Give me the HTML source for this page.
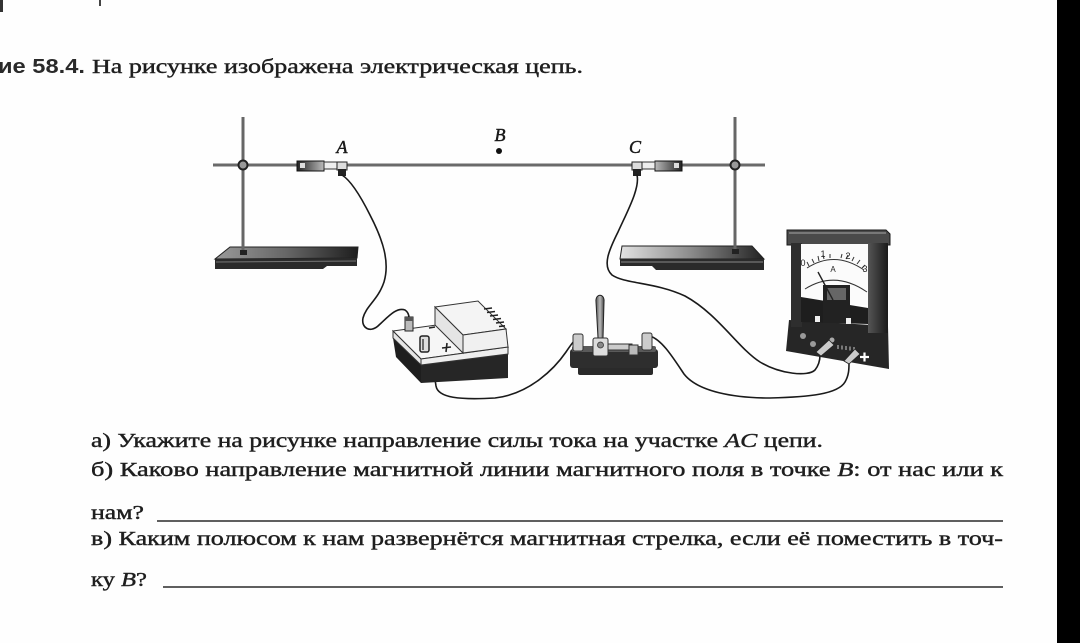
<!DOCTYPE html>
<html><head><meta charset="utf-8">
<style>
html,body{margin:0;padding:0;background:#fff;}
body{width:1080px;height:643px;overflow:hidden;position:relative;}
svg{position:absolute;left:0;top:0;}
.t{font-family:"Liberation Serif","Noto Serif CJK SC",serif;font-size:20px;fill:#1e1e1e;stroke:#1e1e1e;stroke-width:0.4px;}
.w{fill:none;stroke:#1a1a1a;stroke-width:1.6;stroke-linecap:round;}
.lbl{font-family:"Liberation Serif",serif;font-style:italic;font-size:18px;fill:#1a1a1a;stroke:#1a1a1a;stroke-width:0.5px;}
</style></head><body>
<svg width="1080" height="643" viewBox="0 0 1080 643" xmlns="http://www.w3.org/2000/svg">
<defs>
 <linearGradient id="gL" x1="0" x2="1" y1="0" y2="0">
  <stop offset="0" stop-color="#9a9a9a"/><stop offset="0.5" stop-color="#666"/><stop offset="1" stop-color="#1e1e1e"/>
 </linearGradient>
 <linearGradient id="gR" x1="0" x2="1" y1="0" y2="0">
  <stop offset="0" stop-color="#e2e2e2"/><stop offset="0.5" stop-color="#8a8a8a"/><stop offset="1" stop-color="#222"/>
 </linearGradient>
 <linearGradient id="gClA" x1="0" x2="1" y1="0" y2="0">
  <stop offset="0" stop-color="#222"/><stop offset="1" stop-color="#bbb"/>
 </linearGradient>
 <linearGradient id="gClC" x1="1" x2="0" y1="0" y2="0">
  <stop offset="0" stop-color="#222"/><stop offset="1" stop-color="#bbb"/>
 </linearGradient>
 <linearGradient id="gH" x1="0" x2="1" y1="0" y2="0">
  <stop offset="0" stop-color="#555"/><stop offset="0.5" stop-color="#bbb"/><stop offset="1" stop-color="#444"/>
 </linearGradient>
 <linearGradient id="gPost" x1="0" x2="1" y1="0" y2="0">
  <stop offset="0" stop-color="#555"/><stop offset="1" stop-color="#1a1a1a"/>
 </linearGradient>
</defs>
<rect width="1080" height="643" fill="#fefefe"/>
<rect x="1057" y="0" width="23" height="643" fill="#000"/>
<rect x="0" y="0" width="3" height="12" fill="#333"/>
<rect x="99" y="0" width="2" height="6" fill="#444"/>

<!-- Title -->
<text x="-2" y="73" font-family="Liberation Sans, sans-serif" font-weight="bold" font-size="20" fill="#2a2a2a" textLength="87" lengthAdjust="spacingAndGlyphs">ие 58.4.</text>
<text class="t" x="92" y="73" textLength="491" lengthAdjust="spacingAndGlyphs">На рисунке изображена электрическая цепь.</text>

<!-- Stands: bases -->
<polygon points="230,247 358,247 357,258 215,259" fill="url(#gL)" stroke="#222" stroke-width="1"/>
<polygon points="215,259 357,258 357,266 327,266 323,269 215,269" fill="#2a2a2a"/>
<line x1="216" y1="262" x2="356" y2="261" stroke="#777" stroke-width="1"/>
<polygon points="622,246 752,246 764,259 620,259" fill="url(#gR)" stroke="#222" stroke-width="1"/>
<polygon points="620,259 764,259 764,270 656,270 652,266 620,266" fill="#2a2a2a"/>
<line x1="621" y1="262" x2="763" y2="262" stroke="#888" stroke-width="1"/>

<!-- vertical rods -->
<line x1="243" y1="117" x2="243" y2="253" stroke="#666" stroke-width="3"/>
<rect x="240" y="250" width="7" height="5" fill="#222"/>
<line x1="735" y1="117" x2="735" y2="252" stroke="#666" stroke-width="3"/>
<rect x="732" y="249" width="7" height="5" fill="#222"/>
<!-- horizontal rod -->
<line x1="213" y1="165" x2="765" y2="165" stroke="#6a6a6a" stroke-width="3"/>
<!-- boss heads -->
<circle cx="243" cy="165" r="4.5" fill="#999" stroke="#222" stroke-width="2"/>
<circle cx="735" cy="165" r="4.5" fill="#999" stroke="#222" stroke-width="2"/>

<!-- Clamp A -->
<rect x="297" y="161" width="27" height="10" fill="url(#gClA)" stroke="#111" stroke-width="1"/>
<rect x="300" y="163" width="5" height="5" fill="#ddd"/>
<rect x="324" y="162" width="13" height="7" fill="#eee" stroke="#333" stroke-width="1"/>
<rect x="337" y="162" width="10" height="8" fill="#ddd" stroke="#222" stroke-width="1"/>
<rect x="338" y="169" width="8" height="7" fill="#222"/>
<!-- Clamp C -->
<rect x="655" y="161" width="27" height="10" fill="url(#gClC)" stroke="#111" stroke-width="1"/>
<rect x="674" y="163" width="5" height="5" fill="#ddd"/>
<rect x="642" y="162" width="13" height="7" fill="#eee" stroke="#333" stroke-width="1"/>
<rect x="632" y="162" width="10" height="8" fill="#ddd" stroke="#222" stroke-width="1"/>
<rect x="633" y="169" width="8" height="7" fill="#222"/>

<!-- Labels -->
<text class="lbl" x="342" y="153" text-anchor="middle">A</text>
<text class="lbl" x="500" y="141" text-anchor="middle">B</text>
<circle cx="499" cy="151" r="3" fill="#111"/>
<text class="lbl" x="635" y="153" text-anchor="middle">C</text>

<!-- Wires -->
<path class="w" d="M342,175 C350,180 360,195 370,215 C383,240 390,262 384,282 C378,300 366,306 363,318 C361,328 370,333 378,326 C388,317 396,307 405,310 C408,312 409,315 409,318"/>
<path class="w" d="M637,175 C640,188 628,210 618,232 C609,250 602,266 612,275 C625,284 655,282 685,296 C718,314 738,348 760,362 C780,374 808,377 815,370 C819,365 820,360 820,355"/>
<path class="w" d="M425,340 C430,355 434,372 436,386 C438,398 460,400 495,398 C530,394 555,368 566,352 C570,346 574,340 578,337"/>
<path class="w" d="M650,336 C662,340 672,356 684,374 C698,392 735,398 770,398 C810,397 838,394 845,382 C849,375 849,369 849,363"/>

<!-- Power supply -->
<polygon points="393,338 421,365 421,383 396,357" fill="#1e1e1e"/>
<polygon points="421,365 508,354 508,378 421,383" fill="#262626"/>
<polygon points="393,331 480,319 508,347 421,359" fill="#f6f6f6" stroke="#333" stroke-width="1"/>
<polygon points="393,331 421,359 421,365 393,338" fill="#e6e6e6" stroke="#333" stroke-width="1"/>
<polygon points="421,359 508,347 508,354 421,365" fill="#eee" stroke="#333" stroke-width="1"/>
<polygon points="435,307 478,301 506,329 463,335" fill="#f4f4f4" stroke="#333" stroke-width="1"/>
<polygon points="435,307 463,335 463,353 435,325" fill="#e4e4e4" stroke="#333" stroke-width="1"/>
<polygon points="463,335 506,329 508,347 463,353" fill="#f0f0f0" stroke="#333" stroke-width="1"/>
<g stroke="#222" stroke-width="1.6">
 <line x1="484" y1="309" x2="492" y2="308"/>
 <line x1="487" y1="312.5" x2="495" y2="311.5"/>
 <line x1="490" y1="316" x2="498" y2="315"/>
 <line x1="493" y1="319.5" x2="501" y2="318.5"/>
 <line x1="496" y1="323" x2="504" y2="322"/>
 <line x1="499" y1="326.5" x2="505" y2="325.8"/>
</g>
<rect x="405" y="317" width="8" height="14" fill="#bbb" stroke="#222" stroke-width="1"/>
<rect x="405" y="317" width="8" height="4" fill="#555"/>
<rect x="420" y="336" width="9" height="16" rx="2" fill="#ddd" stroke="#222" stroke-width="1.5"/>
<line x1="423" y1="339" x2="423" y2="350" stroke="#444" stroke-width="1.5"/>
<line x1="429" y1="328" x2="435" y2="327" stroke="#222" stroke-width="1.5"/>
<line x1="442" y1="348" x2="451" y2="347" stroke="#222" stroke-width="1.6"/>
<line x1="447" y1="343" x2="446" y2="352" stroke="#222" stroke-width="1.6"/>

<!-- Switch -->
<rect x="578" y="364" width="75" height="11" rx="2" fill="#2a2a2a"/>
<rect x="570" y="349" width="88" height="19" rx="3" fill="#2e2e2e"/>
<rect x="572" y="346" width="84" height="6" rx="2" fill="#5a5a5a"/>
<rect x="573" y="334" width="10" height="17" rx="2" fill="#ccc" stroke="#333" stroke-width="1"/>
<rect x="642" y="333" width="10" height="17" rx="2" fill="#ccc" stroke="#333" stroke-width="1"/>
<path d="M596,302 C595,293 605,293 604,302 L603,338 L598,338 Z" fill="url(#gH)" stroke="#222" stroke-width="1"/>
<rect x="606" y="344" width="26" height="6" fill="#ccc" stroke="#333" stroke-width="1"/>
<rect x="629" y="345" width="9" height="10" fill="#bbb" stroke="#333" stroke-width="1"/>
<rect x="593" y="338" width="15" height="18" rx="2" fill="#ddd" stroke="#333" stroke-width="1"/>
<circle cx="600.5" cy="345" r="3" fill="#888" stroke="#333" stroke-width="0.8"/>

<!-- Ammeter -->
<polygon points="789,320 888,326 889,369 786,351" fill="#262626"/>
<polygon points="787,230 886,230 890,234 890,245 787,245" fill="#4a4a4a" stroke="#1a1a1a" stroke-width="1"/>
<line x1="789" y1="233" x2="886" y2="233" stroke="#888" stroke-width="1.5"/>
<rect x="791" y="243" width="11" height="84" fill="#2e2e2e"/>
<rect x="868" y="243" width="20" height="90" fill="url(#gPost)"/>
<rect x="801" y="244" width="67" height="61" fill="#fbfbfb"/>
<polygon points="801,297 868,308 868,324 801,322" fill="#1e1e1e"/>
<rect x="823" y="285" width="27" height="38" fill="#222"/>
<rect x="827" y="288" width="19" height="12" fill="#666"/>
<rect x="815" y="316" width="5" height="6" fill="#eee"/>
<rect x="846" y="318" width="5" height="6" fill="#eee"/>
<path d="M807,268 Q835,250 864,270" fill="none" stroke="#333" stroke-width="1"/>
<g stroke="#333" stroke-width="1">
 <line x1="809" y1="266" x2="807" y2="262"/>
 <line x1="814" y1="263" x2="812" y2="259"/>
 <line x1="819" y1="261" x2="818" y2="256"/>
 <line x1="824" y1="259" x2="823" y2="255"/>
 <line x1="830" y1="258" x2="830" y2="254"/>
 <line x1="841" y1="258" x2="842" y2="254"/>
 <line x1="846" y1="259" x2="848" y2="255"/>
 <line x1="852" y1="261" x2="854" y2="257"/>
 <line x1="857" y1="264" x2="860" y2="260"/>
 <line x1="862" y1="268" x2="865" y2="265"/>
</g>
<path d="M805,289 Q835,270 867,292" fill="none" stroke="#333" stroke-width="1"/>
<text x="803" y="266" font-family="Liberation Sans, sans-serif" font-size="9" fill="#222" text-anchor="middle">0</text>
<text x="823" y="257" font-family="Liberation Sans, sans-serif" font-size="9" fill="#222" text-anchor="middle">1</text>
<text x="848" y="259" font-family="Liberation Sans, sans-serif" font-size="9" fill="#222" text-anchor="middle">2</text>
<text x="865" y="272" font-family="Liberation Sans, sans-serif" font-size="9" fill="#222" text-anchor="middle">3</text>
<text x="833" y="272" font-family="Liberation Sans, sans-serif" font-size="8" fill="#222" text-anchor="middle">A</text>
<line x1="833" y1="300" x2="818" y2="272" stroke="#222" stroke-width="1.4"/>
<circle cx="803" cy="336" r="3" fill="#999"/>
<circle cx="813" cy="344" r="3" fill="#999"/>
<circle cx="832" cy="340" r="2.5" fill="#aaa"/>
<g stroke="#ccc" stroke-width="1">
 <line x1="838" y1="345" x2="838" y2="349"/><line x1="842" y1="345.5" x2="842" y2="349.5"/>
 <line x1="846" y1="346" x2="846" y2="350"/><line x1="850" y1="346.5" x2="850" y2="350.5"/>
 <line x1="854" y1="347" x2="854" y2="351"/>
</g>
<polygon points="816,352 829,340 834,345 821,356" fill="#ccc" stroke="#222" stroke-width="0.8"/>
<polygon points="844,361 855,349 860,354 849,364" fill="#ccc" stroke="#222" stroke-width="0.8"/>
<line x1="860" y1="357" x2="869" y2="357" stroke="#fff" stroke-width="2.2"/>
<line x1="864.5" y1="352.5" x2="864.5" y2="361.5" stroke="#fff" stroke-width="2.2"/>

<!-- Questions -->
<text class="t" x="91" y="447" textLength="732" lengthAdjust="spacingAndGlyphs">а) Укажите на рисунке направление силы тока на участке <tspan font-style="italic">AC</tspan> цепи.</text>

<text class="t" x="91" y="476" textLength="912" lengthAdjust="spacingAndGlyphs">б) Каково направление магнитной линии магнитного поля в точке <tspan font-style="italic">B</tspan>: от нас или к</text>

<text class="t" x="91" y="519" textLength="53" lengthAdjust="spacingAndGlyphs">нам?</text>
<line x1="157" y1="521" x2="1003" y2="521" stroke="#2a2a2a" stroke-width="1.4"/>

<text class="t" x="91" y="545" textLength="912" lengthAdjust="spacingAndGlyphs">в) Каким полюсом к нам развернётся магнитная стрелка, если её поместить в точ-</text>

<text class="t" x="91" y="586" textLength="56" lengthAdjust="spacingAndGlyphs">ку <tspan font-style="italic">B</tspan>?</text>
<line x1="163" y1="587" x2="1003" y2="587" stroke="#2a2a2a" stroke-width="1.4"/>
</svg>
</body></html>
